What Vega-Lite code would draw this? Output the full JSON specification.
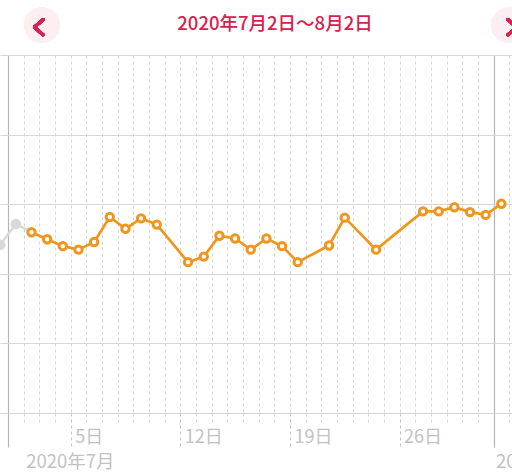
{
  "$schema": "https://vega.github.io/schema/vega-lite/v6.json",
  "width": 512,
  "height": 358,
  "autosize": "none",
  "padding": {"left": 0, "top": 55, "right": 0, "bottom": 63},
  "background": "white",
  "config": {"view": {"stroke": null}, "font": "Noto Sans CJK JP"},
  "title": {"text": "2020年7月2日〜8月2日", "color": "#d8204f", "fontSize": 18.5, "fontWeight": 500, "font": "Noto Sans CJK JP", "anchor": "middle", "dx": 19, "offset": -26},
  "data": {
    "values": [
      {"date": "2020-06-30T12:00:00", "value": 2.42, "set": "prev"},
      {"date": "2020-07-01T12:00:00", "value": 2.72, "set": "prev"},
      {"date": "2020-07-02T12:00:00", "value": 2.60, "set": "range"},
      {"date": "2020-07-03T12:00:00", "value": 2.50, "set": "range"},
      {"date": "2020-07-04T12:00:00", "value": 2.40, "set": "range"},
      {"date": "2020-07-05T12:00:00", "value": 2.35, "set": "range"},
      {"date": "2020-07-06T12:00:00", "value": 2.46, "set": "range"},
      {"date": "2020-07-07T12:00:00", "value": 2.82, "set": "range"},
      {"date": "2020-07-08T12:00:00", "value": 2.65, "set": "range"},
      {"date": "2020-07-09T12:00:00", "value": 2.80, "set": "range"},
      {"date": "2020-07-10T12:00:00", "value": 2.71, "set": "range"},
      {"date": "2020-07-12T12:00:00", "value": 2.17, "set": "range"},
      {"date": "2020-07-13T12:00:00", "value": 2.25, "set": "range"},
      {"date": "2020-07-14T12:00:00", "value": 2.55, "set": "range"},
      {"date": "2020-07-15T12:00:00", "value": 2.51, "set": "range"},
      {"date": "2020-07-16T12:00:00", "value": 2.35, "set": "range"},
      {"date": "2020-07-17T12:00:00", "value": 2.51, "set": "range"},
      {"date": "2020-07-18T12:00:00", "value": 2.40, "set": "range"},
      {"date": "2020-07-19T12:00:00", "value": 2.17, "set": "range"},
      {"date": "2020-07-21T12:00:00", "value": 2.41, "set": "range"},
      {"date": "2020-07-22T12:00:00", "value": 2.81, "set": "range"},
      {"date": "2020-07-24T12:00:00", "value": 2.35, "set": "range"},
      {"date": "2020-07-27T12:00:00", "value": 2.90, "set": "range"},
      {"date": "2020-07-28T12:00:00", "value": 2.90, "set": "range"},
      {"date": "2020-07-29T12:00:00", "value": 2.96, "set": "range"},
      {"date": "2020-07-30T12:00:00", "value": 2.89, "set": "range"},
      {"date": "2020-07-31T12:00:00", "value": 2.85, "set": "range"},
      {"date": "2020-08-01T12:00:00", "value": 3.01, "set": "range"}
    ],
    "format": {"parse": {"date": "date"}}
  },
  "resolve": {"axis": {"x": "independent"}},
  "layer": [
    {
      "transform": [{"filter": "time(datum.date) <= time(datetime(2020, 6, 2, 12))"}],
      "mark": {"type": "line", "color": "#d9d9d9", "strokeWidth": 2.5},
      "encoding": {
        "x": {"field": "date", "type": "temporal",
          "scale": {"domain": [{"year": 2020, "month": 6, "date": 30, "hours": 11, "minutes": 44}, {"year": 2020, "month": 8, "date": 2, "hours": 4, "minutes": 20}], "nice": false},
          "axis": {"orient": "bottom", "tickCount": {"interval": "day", "step": 1}, "grid": true, "gridDash": [3, 3], "gridColor": "#d4d4d4", "gridWidth": 1, "ticks": true, "tickSize": 12, "tickDash": [3, 3], "tickColor": "#d4d4d4", "tickWidth": 1, "labels": false, "domain": false, "title": null}},
        "y": {"field": "value", "type": "quantitative",
          "scale": {"domain": [0, 5.15], "nice": false, "zero": true},
          "axis": {"orient": "left", "values": [0, 1, 2, 3, 4, 5.15], "grid": true, "gridColor": "#d6d6d6", "gridWidth": 1.2, "ticks": false, "labels": false, "domain": false, "title": null}}
      }
    },
    {
      "transform": [{"filter": "datum.set == 'prev'"}],
      "mark": {"type": "point", "filled": true, "color": "#d9d9d9", "size": 110, "opacity": 1},
      "encoding": {
        "x": {"field": "date", "type": "temporal",
          "axis": {"orient": "bottom", "values": [{"year": 2020, "month": 7, "date": 1}, {"year": 2020, "month": 8, "date": 1}], "grid": true, "gridColor": "#b5b5b5", "gridWidth": 1.2, "ticks": true, "tickSize": 34, "tickColor": "#b5b5b5", "tickWidth": 1.2, "labels": false, "domain": false, "title": null}},
        "y": {"field": "value", "type": "quantitative"}
      }
    },
    {
      "transform": [{"filter": "time(datum.date) >= time(datetime(2020, 6, 2, 12))"}],
      "mark": {"type": "line", "color": "#f0961e", "strokeWidth": 2.7},
      "encoding": {
        "x": {"field": "date", "type": "temporal",
          "axis": {"orient": "bottom", "values": [{"year": 2020, "month": 6, "date": 28}, {"year": 2020, "month": 7, "date": 5}, {"year": 2020, "month": 7, "date": 12}, {"year": 2020, "month": 7, "date": 19}, {"year": 2020, "month": 7, "date": 26}], "format": "%-d日", "grid": false, "ticks": true, "tickSize": 34, "tickDash": [3, 3], "tickColor": "#c4c4c4", "labelAlign": "left", "labelBaseline": "top", "labelOffset": 4, "labelPadding": -19, "labelColor": "#c2c2c2", "labelFontSize": 18, "labelFont": "Noto Sans CJK JP", "labelFlush": false, "labelOverlap": false, "labelBound": false, "domain": false, "title": null}},
        "y": {"field": "value", "type": "quantitative"}
      }
    },
    {
      "transform": [{"filter": "datum.set == 'range'"}],
      "mark": {"type": "point", "filled": false, "fill": "white", "fillOpacity": 1, "color": "#f0961e", "strokeWidth": 3, "size": 55, "opacity": 1},
      "encoding": {
        "x": {"field": "date", "type": "temporal",
          "axis": {"orient": "bottom", "values": [{"year": 2020, "month": 7, "date": 2}, {"year": 2020, "month": 8, "date": 1}], "labelExpr": "month(datum.value) == 6 ? '2020年7月' : '2020年8月'", "grid": false, "ticks": false, "labelAlign": "left", "labelBaseline": "top", "labelOffset": 2, "labelPadding": 39, "labelColor": "#c2c2c2", "labelFontSize": 18.5, "labelFont": "Noto Sans CJK JP", "labelFlush": false, "labelOverlap": false, "labelBound": false, "domain": false, "title": null}},
        "y": {"field": "value", "type": "quantitative"}
      }
    },
    {
      "mark": {"type": "point", "filled": true, "color": "#fdeef1", "size": 1257, "opacity": 1, "shape": "circle"},
      "encoding": {
        "x": {"datum": {"year": 2020, "month": 7, "date": 3, "hours": 4, "minutes": 6}, "type": "temporal", "axis": null},
        "y": {"datum": 5.58, "type": "quantitative"}
      }
    },
    {
      "mark": {"type": "point", "filled": true, "color": "#fdeef1", "size": 1257, "opacity": 1, "shape": "circle"},
      "encoding": {
        "x": {"datum": {"year": 2020, "month": 8, "date": 1, "hours": 23, "minutes": 46}, "type": "temporal", "axis": null},
        "y": {"datum": 5.58, "type": "quantitative"}
      }
    },
    {
      "mark": {"type": "point", "filled": false, "color": "#d9224f", "strokeWidth": 3, "strokeCap": "round", "strokeJoin": "round", "size": 324, "opacity": 1, "shape": "M 0.45 -0.85 L -0.5 0 L 0.45 0.85"},
      "encoding": {
        "x": {"datum": {"year": 2020, "month": 7, "date": 2, "hours": 23, "minutes": 31}, "type": "temporal", "axis": null},
        "y": {"datum": 5.55, "type": "quantitative"}
      }
    },
    {
      "mark": {"type": "point", "filled": false, "color": "#d9224f", "strokeWidth": 3, "strokeCap": "round", "strokeJoin": "round", "size": 324, "opacity": 1, "shape": "M -0.45 -0.85 L 0.5 0 L -0.45 0.85"},
      "encoding": {
        "x": {"datum": {"year": 2020, "month": 8, "date": 2, "hours": 4, "minutes": 20}, "type": "temporal", "axis": null},
        "y": {"datum": 5.55, "type": "quantitative"}
      }
    }
  ]
}
